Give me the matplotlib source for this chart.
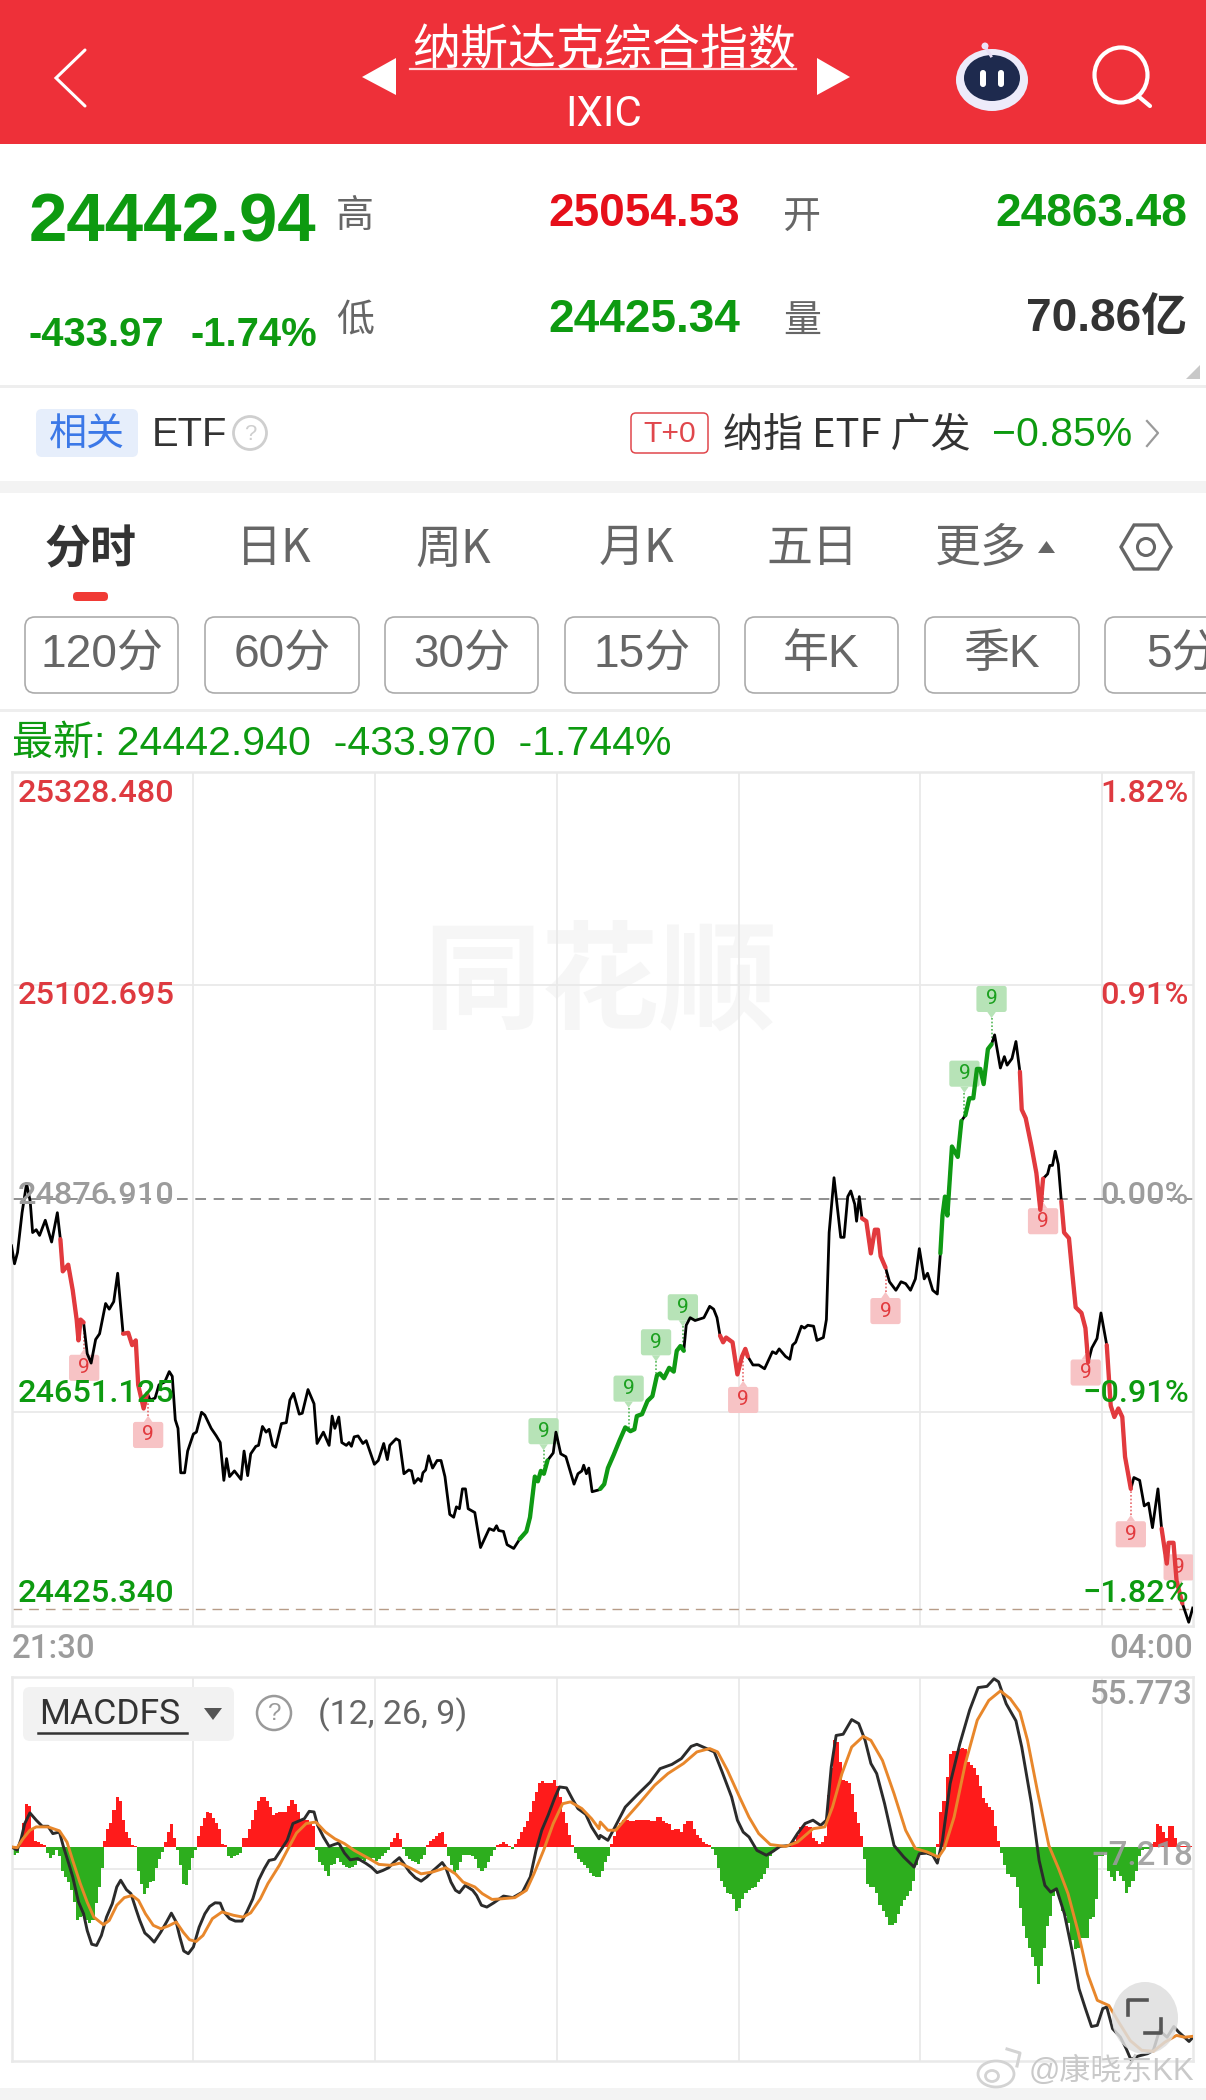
import numpy as np
import matplotlib
matplotlib.use("Agg")
import matplotlib.pyplot as plt
from matplotlib.patches import FancyBboxPatch, Circle, Polygon, Rectangle, Ellipse

# ---------- data ----------
title = "纳斯达克综合指数"
code = "IXIC"
last_price = 24442.94
prev_close = 24876.91
price_ticks = [25328.480, 25102.695, 24876.910, 24651.125, 24425.340]
pct_ticks = ["1.82%", "0.91%", "0.00%", "−0.91%", "−1.82%"]
macd_top = 55.773
macd_mid = -7.218
macd_bottom = -70.2
hour_ticks = [60, 120, 180, 240, 300, 360]

price_t = [0,1,2,3.5,5,6.2,7,8.2,9.3,11.2,13.3,15.2,16.2,17,18.8,20.3,21.6,22.2,22.9,23.9,25.1,26.4,27.9,29.2,31.2,32.4,33.9,35.2,37,38.7,40,41.2,42,43.8,45,46,47.6,48.9,50.8,52.3,53.3,54.3,55.2,56.1,57.4,58.4,60.3,61.3,63,64.1,66.2,67.9,69.2,70.4,71.3,72.3,73.9,76.1,77.1,78.3,79.3,81,81.9,83.2,84.4,85.4,86.6,87.6,89.5,91.1,92.3,93.5,95.4,96.4,98.3,100.3,101.3,103.4,105.3,106.3,107.2,108.5,109.5,111,111.9,112.7,113.6,114.9,116.5,117.6,119,120.3,121.6,123.4,124.6,125.4,127.5,128.6,130.1,131.7,132.6,133.5,134.8,135.8,136.4,137.3,138.3,139.6,141.1,142.4,143.7,145.3,146.6,147.5,148.5,149.5,150.5,151.4,153.6,155.5,158.4,159.9,160.8,161.5,163.1,164.3,166.5,168.5,170.7,171.9,173.5,174.5,175.5,176.5,177.7,179.6,180.5,182.1,183.8,186.5,187.8,189.1,189.7,190.6,191.4,192.5,194.8,
           195.2,196.5,197.7,199.6,201.5,203.4,205.1,206.4,207.2,208.9,210.7,212.3,213.8,214.8,216.1,217.8,219.3,220.3,221.5,222.6,223.4,224.7,226.3,229.2,231.1,232.4,233.5,234.5,235.5,236.5,238.6,240.2,241.7,242.8,243.6,245.3,247.2,249.1,251.7,252.9,253.9,256,257.4,258.3,259.3,261.2,262.2,263.3,265.2,266.3,268.4,269.4,270.3,271.9,274.1,275.2,276.4,277.4,278.7,279.3,280.2,281.1,282.5,284,285.3,286.3,287.2,288.8,290.1,292.2,293.9,295.4,297,298.6,299.9,301.5,302.6,304.3,305.8,306.8,307.5,308.3,309.1,310.6,312.5,313.7,315,316.3,317.6,318.8,319.9,321,322.4,323.6,324.6,326.5,327.8,328.7,330.3,331.6,332.9,333.5,334.8,336.7,338.3,339.6,340.5,342,342.7,343.6,344.5,345.5,346.5,347.4,349,350,351.2,353.1,354.4,355.3,356.5,358.2,359.5,361.4,362.7,363.9,365.2,366.5,367.4,369.3,370.3,372.2,373.7,375.1,376.4,378.2,379.4,381.1,381.7,383.3,384.3,386.2,388.3,389.6]
price_v = [24827,24808,24820,24862,24893,24874,24841,24844,24838,24854,24831,24862,24834,24800,24807,24780,24749,24727,24749,24746,24713,24703,24728,24734,24766,24760,24768,24798,24734,24735,24722,24727,24680,24655,24671,24664,24666,24680,24683,24694,24689,24643,24634,24587,24587,24610,24628,24630,24651,24648,24634,24626,24619,24579,24602,24583,24589,24580,24610,24584,24607,24615,24616,24636,24630,24633,24616,24614,24639,24640,24664,24671,24649,24650,24675,24660,24618,24630,24616,24647,24634,24646,24619,24616,24619,24615,24625,24626,24618,24621,24608,24596,24600,24618,24601,24616,24623,24621,24586,24590,24589,24576,24581,24578,24587,24590,24605,24592,24600,24600,24583,24543,24540,24551,24549,24570,24570,24549,24545,24508,24528,24526,24531,24526,24525,24511,24507,24517,24525,24540,24583,24578,24589,24586,24600,24608,24630,24607,24604,24575,24586,24589,24595,24586,24592,24567,24569,
           24570,24575,24592,24606,24621,24635,24631,24633,24647,24649,24663,24668,24690,24692,24687,24698,24694,24716,24721,24716,24743,24751,24748,24751,24763,24760,24751,24732,24725,24730,24725,24691,24710,24718,24710,24701,24701,24697,24715,24713,24718,24710,24707,24722,24725,24742,24740,24743,24742,24727,24730,24749,24841,24899,24836,24836,24879,24885,24871,24853,24879,24856,24853,24819,24844,24844,24816,24804,24789,24780,24789,24787,24780,24792,24824,24792,24798,24780,24776,24819,24859,24879,24859,24932,24921,24959,24965,24983,24983,25014,25014,24998,25035,25040,25050,25015,25027,25018,25025,25043,25011,24971,24962,24932,24904,24865,24898,24903,24912,24912,24927,24913,24874,24841,24835,24801,24762,24756,24740,24704,24719,24729,24756,24722,24658,24646,24655,24646,24604,24570,24582,24579,24552,24555,24529,24570,24528,24491,24513,24513,24473,24449,24429,24444]

red_runs = [(16.2,23.9),(37,45),(234.5,243.6),(281.1,288.8),(332.9,340.5),(346.5,355.3),(361.4,369.3),(379.4,387.5)]
green_runs = [(168.5,177.7),(195.2,222.6),(306.8,314),(315,323.6)]

nine_red_t = [24.1,45.3,242.1,288.8,340.5,354.5,369.3,385]
nine_red_box = [24698,24627,24664,24758,24853,24693,24522,24487]
nine_green_t = [176.4,204.5,213.5,222.3,314.7,323.6]
nine_green_box = [24631,24676,24725,24762,25009,25088]

hist_values = [-1.5,-2.5,-2,1.5,8,14,13.5,6,2,1.5, 1,.5,-2,-3.5,-2.5,-1,-3,-8,-10,-11.5,
 -14,-18,-24,-23,-22.5,-24,-25,-24,-18.5,-13, -7,2,6,8,12,16.5,15,9,5,3,
 .5,.3,-8,-12,-15.5,-13.5,-11.5,-11,-7,-4, -1.5,1.5,5,7.5,3,-1,-6,-12,-12.5,-7.5,
 -3.5,-1,3.5,7,9.5,11.5,11,9.5,8,6, 1,.5,-3,-3.5,-3,-2.5,-2,3,3,6,
 9,12,15,16.5,16.5,15,13,10.5,11,11.5, 11.5,11.5,13.5,15.5,14,11.5,9,9,9,7.5,
 7,-1,-5,-6,-8,-9.5,-6,-5.5,-3.5,-5, -6,-6.5,-7,-6.5,-6,-4.5,-4,-4.5,-4,-4,
 -3.5,-4.5,-4,-3,-2,-1,1.5,3,4.5,2.5, -.5,-3,-4,-4.5,-5,-5.5,-4,-2.5,.5,2,
 2.5,3.5,4.5,5,1,-3,-6,-8.5,-7.5,-5, -2.5,-2.5,-2.5,-3,-4,-7,-8,-7,-5,-3,
 -1,.5,1,1.5,1,.3,-.5,1,2.5,5, 6.5,8.5,11.5,15,18,21,21.5,21,21,21,
 22,20,16.5,11.5,8,4,.5,-2,-4,-5, -6,-7,-8.5,-9.5,-10,-10,-8,-5,-3,1,
 3.5,6.5,8,9,9,8.5,8.5,9,9,9, 9,9,8.5,8.5,10,10,8.5,8,7.5,5.5,
 6,6,5,7.5,8.5,8.5,6,4,3,1.5, 1,.5,-.5,-2.5,-7,-11,-13,-15,-15.5,-17,
 -21,-20,-17,-15,-14,-13.5,-13,-11.5,-10.5,-9, -7,-3,-1.5,-.5,.5,.5,.5,.5,1,2,
 4,6.5,7,7,6.5,3,2,1,1.5,3.5, 17,26,35,34.5,28,22,21.5,21,17.5,11.5,
 8,3.5,-4,-12,-13,-13,-15,-19,-21,-23, -25.5,-25.5,-25,-22,-19.5,-17.5,-16,-14.5,-11,-6,
 -2,-2,-2,-2.5,-3,-3,1,11.5,15,23, 30.5,31.5,31.5,32,32.5,32,28,27,26,23.5,
 20,16,14.5,13,12,7,2,-2,-6,-9, -10,-10,-13,-20,-26,-30,-33,-36,-39,-45,
 -39,-33,-26,-22.5,-16,-14,-17,-21,-22.5,-25, -30.5,-33.5,-33,-30,-30,-30,-23.5,-23,-17,-3,
 -3,-2,-8,-10,-11,-8,-9.5,-11,-15,-13, -11,-8,-3,-1,-.5,-.5,1,1.5,7.5,7,
 5,3,7,7,3,.5,.4,.4,.4,.4]

dif_t = [0,1.9,3.2,4.4,6.1,8.2,10.2,12.1,13.7,15.9,17.1,19,20.3,22.2,23.9,25.1,26.6,28.2,29.8,31.5,33.4,34.9,36.2,38.1,39.6,41.2,42.5,44.2,45.7,47.3,49.5,51.4,53,54.6,55.8,57.1,58.6,60.3,62.2,64.1,65.7,67.5,69.2,70.4,72.3,74.2,76.4,78,80,81.9,83.8,85.4,87.3,89.2,91.4,93.3,95.2,97.1,98.7,100.3,101.5,103.4,105.3,107.2,108.5,110.4,112.3,114.8,117.4,119.3,121.2,123.1,125,126.9,128.6,130.1,132,133.9,135.8,137.7,139.6,142.8,144,145.7,147.2,148.5,150.4,152.9,154.2,155.8,157.6,159.9,163.1,166.2,169.4,172,173.9,175.8,177.9,180.2,181.7,184,186.2,187.8,190.4,192.3,194.8,
 195.2,197.7,200.3,203.4,207.2,211.6,214.8,218.7,221.8,225,226.9,229.4,232.6,235.2,238.3,240.2,242.1,244,246.6,249.7,251.6,254.2,257.4,259.9,262.4,265,267.5,269.4,271,272.6,274.9,277.7,280,282.1,284,285.9,288.5,291.6,294.8,298.2,299.9,302.4,304.3,305.8,307.5,310,313.2,316.4,319.2,322.1,324.4,325.9,328.4,331.6,333.5,336.7,339.2,341.1,343,344.9,347.5,350,352.3,354.4,356.4,358.3,360.1,361.4,363.3,365.9,367.8,369.3,371.7,374.8,376.7,378.7,381.2,383.4,385,386.9,388.4,389.7]
dif_v = [0,-1,2.7,7.7,11.2,8.8,6.8,6.8,4.4,4.9,.5,-5.5,-9.8,-18,-21.9,-27.4,-31.9,-32.3,-29,-23,-18.6,-13.1,-10.9,-14,-15.3,-20.2,-24,-28.2,-29.5,-31.2,-27.9,-24.6,-21.7,-24.6,-29.5,-34.1,-35,-32.8,-26.3,-21.9,-19.5,-18.3,-18.4,-21.3,-23.5,-24.3,-24.3,-21.3,-17,-10.9,-7.1,-4.4,-4,-1.1,2.2,7.7,8.5,9.3,11.7,11.5,7.1,3.3,.2,.9,1.3,-2,-4.2,-3.8,-5.3,-6.6,-8.4,-7.7,-6.8,-4.9,-3.5,-5.5,-8.2,-10.1,-11.2,-9.8,-7.9,-5.1,-6.8,-11.5,-14.2,-15,-12.6,-14.2,-15.9,-19.1,-19.7,-18.3,-16.1,-16.6,-14.8,-9.8,-1.1,5.5,10.4,16.4,19.7,19.4,15.3,12.6,10.7,6.6,2.7,
 3.8,2.2,7.1,13.1,17,21.3,25.7,27.1,29,33,33.7,32.6,31.2,24.6,16.4,8.8,4.9,3.3,-1.1,-2.7,-1.6,.2,.5,4.4,7.7,8.8,7.1,8.8,26.3,36.6,37,41.8,40.5,35,27.4,24.1,14.2,.5,-3.3,-6.6,-2.2,-2,-2.7,-5.3,2.2,20.8,33.9,44.9,52.3,52.7,55.2,54.2,47,41.4,32.8,14.2,-4.4,-12.6,-14.8,-13.7,-21.9,-33.9,-46.5,-53,-58.9,-58.5,-53,-52.5,-59.6,-62.4,-66.2,-69.7,-68.6,-67.8,-66.7,-60.2,-62.4,-58.9,-60.7,-62.4,-63.8,-62.4]

dea_t = [0,1.9,3.8,6.1,8.2,12.1,15.9,18.4,20.3,22.8,25.1,27.3,30.5,32.4,34.9,37.4,40,42.1,44.4,47,49.5,52,54.6,56.9,59,61.2,63.5,66.6,69.8,73.6,76.8,79.3,82.5,85,88.8,92,94.5,97.7,100.9,104.1,107.2,110.4,113.6,118,121.8,125.6,128.8,132.6,135.8,139.6,144,147.2,149.7,153.6,156.1,159.3,162.4,166.9,170.7,173.2,176.4,179.6,182.7,185.3,189.1,192.3,194.8,
 195.2,197.7,200.3,204,207.9,213,217.4,222.5,226.9,231.1,233.7,236.9,240.9,244,247.2,251,256,259.9,265,268.9,271.4,274.5,277.7,281.5,284,287.8,291.6,295.4,298.6,302.4,306.2,308.1,311.3,315,318.9,322.7,326.5,329.7,332.9,335.4,338.6,342.4,345.6,348.7,351.9,355.1,358.3,362.1,365.3,369.1,372.9,376.7,380.5,384.3,386.9,389.7]
dea_v = [0,-.2,2.7,5.5,6.6,6.6,5.3,1.6,-4.4,-12,-18.1,-23,-25.5,-24.1,-19.1,-16.6,-15.9,-17.5,-21.9,-25.7,-26.8,-25.9,-24.6,-27.9,-30.4,-31,-29,-23.5,-21.3,-22.4,-23,-21.6,-17,-12,-6,0,4.6,7.7,8.2,4.9,2.7,1.1,-1.1,-3.5,-5.7,-6,-5.3,-7.1,-8.8,-8.2,-6.8,-8.8,-11.5,-13.1,-15.3,-17.2,-17,-16.6,-14.2,-8.8,-1.1,7.7,14.2,14.8,12.6,9.3,6,
 8.2,5.5,5.5,9.8,14.2,20.2,24.1,27.4,31.2,32.3,31.2,25.2,16.4,9.8,4.4,.8,.2,1.6,6,6.6,13.1,24.1,32.8,36.3,35,28.4,17.5,5.5,-.5,-1.6,-3.3,-.5,9.8,27.4,41.6,48.1,51.2,48.7,44.3,35,18.6,.5,-7.1,-15.3,-27.4,-41.6,-50.3,-52,-57.4,-63.5,-66.7,-67,-64,-61.8,-62.4,-62.1]

# ---------- fonts / colours ----------
NUM = ["Liberation Sans", "Noto Sans CJK SC", "DejaVu Sans"]
AXF = ["Roboto", "Noto Sans CJK SC", "DejaVu Sans"]
CJK = ["Noto Sans CJK SC", "DejaVu Sans"]
plt.rcParams["font.family"] = NUM
RED_H = "#EE3039"; GREEN = "#0D9A10"; RED = "#E60F1A"; CRED = "#DE3A40"
GRAY = "#666666"; LGRAY = "#9C9C9C"; DARK = "#333333"; GRID = "#E9E9E9"

W, H = 1206, 2100
fig = plt.figure(figsize=(W/100, H/100), dpi=100, facecolor="white")

def axes_px(x0, y0, x1, y1, z):
    return fig.add_axes([x0/W, 1-y1/H, (x1-x0)/W, (y1-y0)/H], zorder=z)

bg = axes_px(0, 0, W, H, 0); bg.set_xlim(0, W); bg.set_ylim(H, 0); bg.axis("off")
ov = axes_px(0, 0, W, H, 5); ov.set_xlim(0, W); ov.set_ylim(H, 0); ov.axis("off"); ov.patch.set_alpha(0)

def T(x, y, s, px, color=DARK, ha="left", fam=NUM, weight="normal", ax=ov, va="center", **k):
    return ax.text(x, y+4, s, fontsize=px*0.72, color=color, ha=ha, va=va, family=fam, fontweight=weight, **k)

def rrect(ax, x0, y0, x1, y1, r, fc="none", ec="none", lw=0, **k):
    p = FancyBboxPatch((x0+r, y0+r), x1-x0-2*r, y1-y0-2*r, boxstyle=f"round,pad={r},rounding_size={r}",
                       fc=fc, ec=ec, lw=lw, **k)
    ax.add_patch(p); return p

# ---------- header ----------
bg.add_patch(Rectangle((0, 0), W, 144, fc=RED_H, ec="none"))
T(604, 47, title, 48, "white", "center", CJK, ax=bg)
bg.plot([410, 796], [69, 69], color="#FFD9DB", lw=1.6)
T(604, 110, code, 42, "white", "center", AXF, ax=bg)
bg.add_patch(Polygon([[396, 58], [396, 95], [362, 77]], fc="white", ec="none"))
bg.add_patch(Polygon([[817, 58], [817, 95], [850, 77]], fc="white", ec="none"))
bg.plot([85, 56, 85], [50, 78, 106], color="white", lw=2.2, solid_capstyle="round", solid_joinstyle="miter")
# robot
bg.plot([986, 991], [48, 56], color="#E8DFF5", lw=2)
bg.add_patch(Circle((985, 46), 3.5, fc="#EDE3F8", ec="none"))
bg.add_patch(Ellipse((992, 80), 72, 62, fc="#EDEBFA", ec="none"))
bg.add_patch(Ellipse((992, 78), 56, 46, fc="#1E2A4E", ec="none"))
rrect(bg, 980, 70, 986, 87, 3, fc="white")
rrect(bg, 998, 70, 1004, 87, 3, fc="white")
# search
bg.add_patch(Ellipse((1121, 75), 53, 55, fc="none", ec="white", lw=3))
bg.plot([1138, 1150], [96, 106], color="white", lw=3, solid_capstyle="round")

# ---------- quote block ----------
T(29, 219, "24442.94", 69, GREEN, weight="bold", ax=bg)
T(29, 331, "-433.97", 40, GREEN, weight="bold", ax=bg)
T(190, 331, "-1.74%", 40, GREEN, weight="bold", ax=bg)
T(355, 213, "高", 38, GRAY, "center", CJK, ax=bg)
T(355, 317, "低", 38, GRAY, "center", CJK, ax=bg)
T(802, 213, "开", 38, GRAY, "center", CJK, ax=bg)
T(802, 317, "量", 38, GRAY, "center", CJK, ax=bg)
T(740, 210, "25054.53", 46, RED, "right", weight="bold", ax=bg)
T(740, 316, "24425.34", 46, GREEN, "right", weight="bold", ax=bg)
T(1187, 210, "24863.48", 46, GREEN, "right", weight="bold", ax=bg)
T(1187, 315, "70.86亿", 46, DARK, "right", weight="bold", ax=bg)
bg.add_patch(Polygon([[1200, 365], [1200, 379], [1186, 379]], fc="#C8C8C8", ec="none"))
bg.add_patch(Rectangle((0, 385), W, 2.5, fc="#EEEEEE", ec="none"))

# ---------- ETF row ----------
rrect(bg, 36, 409, 138, 457, 6, fc="#E6EEFB")
T(87, 431, "相关", 38, "#3B78E7", "center", CJK, ax=bg)
T(152, 431, "ETF", 40, DARK, ax=bg)
bg.add_patch(Ellipse((250, 433), 33, 33, fc="none", ec="#CFCFCF", lw=2))
T(250, 430, "?", 22, "#CFCFCF", "center", ax=bg)
rrect(bg, 631, 413, 708, 453, 5, fc="white", ec="#E0474C", lw=1.1)
T(669.5, 430, "T+0", 30, "#E0474C", "center", ax=bg)
T(723, 431, "纳指 ETF 广发", 40, DARK, fam=CJK, ax=bg)
T(992, 431, "−0.85%", 41, GREEN, ax=bg)
bg.plot([1147, 1158, 1147], [421, 433, 446], color="#9A9A9A", lw=1.6)
bg.add_patch(Rectangle((0, 481), W, 12, fc="#F3F3F3", ec="none"))

# ---------- tabs ----------
T(91, 545, "分时", 46, DARK, "center", CJK, "bold", ax=bg)
rrect(bg, 73, 592, 108, 601, 4, fc="#F03A35")
for cx, s in zip([274, 453, 636, 812, 981], ["日K", "周K", "月K", "五日", "更多"]):
    T(cx, 545, s, 46, GRAY, "center", CJK, ax=bg)
bg.add_patch(Polygon([[1038, 553], [1055, 553], [1046.5, 541]], fc=GRAY, ec="none"))
bg.add_patch(Polygon([[1121, 547], [1134, 525], [1158, 525], [1171, 547], [1158, 569], [1134, 569]], fc="none", ec=GRAY, lw=2.4))
bg.add_patch(Ellipse((1146, 547), 17, 17, fc="none", ec=GRAY, lw=2.2))

btn_x = [(25, 178), (205, 359), (385, 538), (565, 719), (745, 898), (925, 1079), (1105, 1260)]
btn_s = ["120分", "60分", "30分", "15分", "年K", "季K", "5分"]
for (a, b), s in zip(btn_x, btn_s):
    rrect(bg, a, 617, b, 693, 10, fc="white", ec="#ABABAB", lw=1.2)
    if s == "5分":
        T(1146, 651, s, 46, GRAY, "left", NUM, ax=bg)
    else:
        T((a+b)/2, 651, s, 46, GRAY, "center", NUM, ax=bg)
bg.add_patch(Rectangle((0, 709), W, 3, fc="#EEEEEE", ec="none"))
T(12, 740, "最新: 24442.940  -433.970  -1.744%", 41, GREEN, ax=bg)
T(600, 981, "同花顺", 118, "#F6F6F6", "center", CJK, "bold", ax=bg, style="italic")

# ---------- price chart ----------
# the traced minute readings lay on two crops of slightly different scale
def minutes(t):
    return np.interp(t, [0, 195.2, 390], [0, 194.35, 390.3])

ax = axes_px(11.5, 771.5, 1193, 1625.7, 2)
ax.patch.set_alpha(0)
ax.set_xlim(0, 390)
ax.set_ylim(price_ticks[-1], price_ticks[0])
ax.set_xticks(hour_ticks)
ax.set_yticks([price_ticks[1], price_ticks[3]])
ax.grid(True, color=GRID, lw=1.3)
ax.tick_params(length=0, labelbottom=False, labelleft=False)
for s in ax.spines.values():
    s.set_color(GRID); s.set_linewidth(1.8)
ax.set_axisbelow(True)
ax.axhline(prev_close, color="#707070", lw=1.1, dashes=(7, 5))
ax.axhline(last_price, color="#B79C88", lw=1.0, dashes=(7, 5))
raw_t = np.array(price_t); pt = minutes(raw_t); pv = np.array(price_v)
ax.plot(pt, pv, color="black", lw=2.0, solid_joinstyle="round", zorder=4)
for runs, col in ((red_runs, "#E23A3E"), (green_runs, "#0F9A14")):
    for a, b in runs:
        m = (raw_t >= a) & (raw_t <= b)
        ax.plot(pt[m], pv[m], color=col, lw=3.1, solid_capstyle="round", solid_joinstyle="round", zorder=5)

def nine(t_raw, box_v, col, fc):
    t = float(minutes(t_raw))
    anchor = float(np.interp(t, pt, pv))
    sign = 1 if anchor > box_v else -1     # side of the box the nib points to
    edge = box_v + sign*13.8
    tip = edge + sign*6.5
    if (anchor - tip)*sign > 0:
        ax.plot([t, t], [tip, anchor], color=col, lw=1.2, ls=(0, (1, 1.2)), zorder=3, alpha=0.75)
    ax.add_patch(FancyBboxPatch((t-4.2, box_v-11), 8.4, 22, boxstyle="round,pad=0.8,rounding_size=0.8",
                                mutation_aspect=3.5, fc=fc, ec="none", zorder=3))
    ax.add_patch(Polygon([[t-1.4, edge], [t+1.4, edge], [t, tip]], fc=fc, ec="none", zorder=3))
    ax.text(t, box_v, "9", fontsize=15, color=col, ha="center", va="center", family=AXF, zorder=3.5)

for t, b in zip(nine_red_t, nine_red_box):
    nine(t, b, "#E23A3E", "#F7C3C5")
for t, b in zip(nine_green_t, nine_green_box):
    nine(t, b, "#1BA01F", "#B7E3B7")

# axis labels (on top of the line, as in the screenshot)
lab_y = [790, 991, 1191.5, 1390, 1589]
lab_c = [CRED, CRED, LGRAY, GREEN, GREEN]
for y, v, p, c in zip(lab_y, price_ticks, pct_ticks, lab_c):
    T(18, y, f"{v:.3f}", 32.5, c, fam=AXF, weight="medium")
    T(1189, y, p, 32.5, c, "right", fam=AXF, weight="medium")
T(11.5, 1645, "21:30", 33, LGRAY, fam=AXF, weight="medium")
T(1193, 1645, "04:00", 33, LGRAY, "right", fam=AXF, weight="medium")

# ---------- MACD ----------
mx = axes_px(11.5, 1677, 1193, 2061, 2)
mx.patch.set_alpha(0)
mx.set_xlim(0, 390)
mx.set_ylim(macd_bottom, macd_top)
mx.set_xticks(hour_ticks)
mx.set_yticks([macd_mid])
mx.grid(True, color=GRID, lw=1.3)
mx.tick_params(length=0, labelbottom=False, labelleft=False)
for s in mx.spines.values():
    s.set_color(GRID); s.set_linewidth(1.8)
mx.set_axisbelow(True)
hv = np.array(hist_values)
cols = np.where(hv >= 0, "#FF1B1B", "#2DAE1E")
mx.bar(minutes(np.arange(len(hv))), hv, width=1.03, color=cols, linewidth=0, zorder=2)
mx.plot(minutes(np.array(dif_t)), dif_v, color="#2B2B2B", lw=2.1, zorder=3, solid_joinstyle="round")
mx.plot(minutes(np.array(dea_t)), dea_v, color="#E8872B", lw=2.1, zorder=4, solid_joinstyle="round")

rrect(ov, 23, 1687, 234, 1741, 7, fc="#F2F2F2", zorder=1)
T(39, 1711, "MACDFS", 35.5, DARK, fam=AXF)
ov.plot([38, 187], [1733, 1733], color=DARK, lw=1.8)
ov.add_patch(Polygon([[204, 1708], [222, 1708], [213, 1720]], fc="#555555", ec="none"))
ov.add_patch(Ellipse((274, 1713), 34, 34, fc="none", ec="#9A9A9A", lw=1.8))
T(274, 1710, "?", 24, "#9A9A9A", "center")
T(318, 1711, "(12, 26, 9)", 34, GRAY, fam=AXF)
T(1193, 1691, f"{macd_top:.3f}", 33, LGRAY, "right", fam=AXF, weight="medium")
T(1193, 1852, f"−{abs(macd_mid):.3f}", 33, LGRAY, "right", fam=AXF, weight="medium", alpha=0.9)

# expand button
ov.add_patch(Ellipse((1145, 2018), 66, 72, fc="#DEDEDE", ec="none", alpha=0.85))
ov.plot([1128, 1128, 1147], [2015, 2000, 2000], color="#555555", lw=2.6)
ov.plot([1145, 1161, 1161], [2033, 2033, 2019], color="#555555", lw=2.6)

# weibo mark and footer
bg.add_patch(Rectangle((0, 2088), W, 12, fc="#F3F3F3", ec="none"))
ov.add_patch(Ellipse((996, 2074), 36, 26, fc="white", ec="#D3D3D3", lw=2))
ov.add_patch(Ellipse((992, 2076), 13, 11, fc="none", ec="#D3D3D3", lw=2))
ov.plot([1007, 1020, 1017], [2049, 2053, 2066], color="#D3D3D3", lw=2.2)
T(1029, 2068, "@康晓东KK", 31, "#C9C9C9", fam=["Liberation Sans", "Noto Sans CJK SC"])

fig.savefig("out.png", dpi=100, facecolor="white")
